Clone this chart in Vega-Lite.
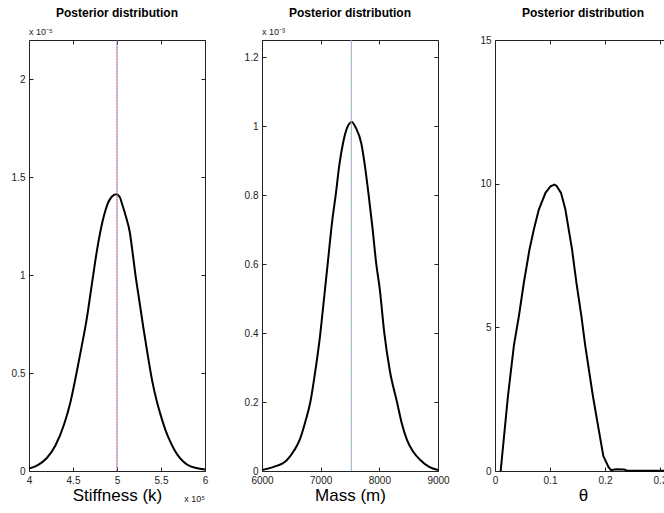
{
  "$schema": "https://vega.github.io/schema/vega-lite/v6.json",
  "padding": {"left": 10, "top": 6, "right": 0, "bottom": 5},
  "background": "white",
  "datasets": {
    "k": [
      {"x": 400000, "p": 1.2e-7}, {"x": 410000, "p": 3.0e-7}, {"x": 420000, "p": 6.5e-7},
      {"x": 430000, "p": 1.3e-6}, {"x": 440000, "p": 2.4e-6}, {"x": 447000, "p": 3.5e-6},
      {"x": 454000, "p": 5.0e-6}, {"x": 460000, "p": 6.4e-6}, {"x": 465000, "p": 7.6e-6},
      {"x": 472000, "p": 9.7e-6}, {"x": 477000, "p": 1.12e-5}, {"x": 481000, "p": 1.22e-5},
      {"x": 485000, "p": 1.30e-5}, {"x": 489000, "p": 1.36e-5}, {"x": 494000, "p": 1.40e-5},
      {"x": 499000, "p": 1.413e-5}, {"x": 503000, "p": 1.40e-5}, {"x": 506000, "p": 1.36e-5},
      {"x": 510000, "p": 1.30e-5}, {"x": 514500, "p": 1.22e-5}, {"x": 517000, "p": 1.14e-5},
      {"x": 521000, "p": 1.00e-5}, {"x": 525000, "p": 8.8e-6}, {"x": 530000, "p": 7.3e-6},
      {"x": 535000, "p": 5.9e-6}, {"x": 540000, "p": 4.6e-6}, {"x": 545000, "p": 3.6e-6},
      {"x": 550000, "p": 2.8e-6}, {"x": 555000, "p": 2.1e-6}, {"x": 560000, "p": 1.55e-6},
      {"x": 565000, "p": 1.1e-6}, {"x": 570000, "p": 7.5e-7}, {"x": 575000, "p": 5.0e-7},
      {"x": 580000, "p": 3.2e-7}, {"x": 590000, "p": 1.5e-7}, {"x": 600000, "p": 8e-8}
    ],
    "ktrue": [{"x": 500000}],
    "m": [
      {"x": 6000, "p": 3e-6}, {"x": 6200, "p": 1.2e-5}, {"x": 6426, "p": 3.2e-5},
      {"x": 6550, "p": 6.0e-5}, {"x": 6642, "p": 9.0e-5}, {"x": 6750, "p": 1.5e-4},
      {"x": 6824, "p": 2.0e-4}, {"x": 6900, "p": 2.8e-4}, {"x": 6995, "p": 4.0e-4},
      {"x": 7051, "p": 4.9e-4}, {"x": 7119, "p": 6.0e-4}, {"x": 7200, "p": 7.3e-4},
      {"x": 7256, "p": 8.0e-4}, {"x": 7320, "p": 8.9e-4}, {"x": 7380, "p": 9.5e-4},
      {"x": 7450, "p": 9.95e-4}, {"x": 7530, "p": 1.0125e-3}, {"x": 7600, "p": 9.95e-4},
      {"x": 7693, "p": 9.5e-4}, {"x": 7750, "p": 8.9e-4}, {"x": 7818, "p": 8.0e-4},
      {"x": 7880, "p": 7.1e-4}, {"x": 7948, "p": 6.0e-4}, {"x": 8006, "p": 5.3e-4},
      {"x": 8085, "p": 4.0e-4}, {"x": 8180, "p": 2.9e-4}, {"x": 8301, "p": 2.0e-4},
      {"x": 8380, "p": 1.4e-4}, {"x": 8471, "p": 9.0e-5}, {"x": 8580, "p": 5.5e-5},
      {"x": 8698, "p": 3.2e-5}, {"x": 8850, "p": 1.2e-5}, {"x": 9000, "p": 3e-6}
    ],
    "mtrue": [{"x": 7522}],
    "theta": [
      {"x": 0.0103, "p": 0}, {"x": 0.0235, "p": 2.6}, {"x": 0.0344, "p": 4.37},
      {"x": 0.0435, "p": 5.4}, {"x": 0.0525, "p": 6.56}, {"x": 0.0628, "p": 7.72},
      {"x": 0.0707, "p": 8.41}, {"x": 0.0797, "p": 9.1}, {"x": 0.0918, "p": 9.68},
      {"x": 0.101, "p": 9.91}, {"x": 0.108, "p": 9.97}, {"x": 0.112, "p": 9.92},
      {"x": 0.12, "p": 9.68}, {"x": 0.128, "p": 9.1}, {"x": 0.134, "p": 8.41},
      {"x": 0.14, "p": 7.72}, {"x": 0.148, "p": 6.56}, {"x": 0.157, "p": 5.4},
      {"x": 0.164, "p": 4.37}, {"x": 0.178, "p": 2.61}, {"x": 0.1885, "p": 1.45},
      {"x": 0.197, "p": 0.52}, {"x": 0.2065, "p": 0.13}, {"x": 0.211, "p": 0.03},
      {"x": 0.22, "p": 0.06}, {"x": 0.235, "p": 0.05}, {"x": 0.24, "p": 0.01},
      {"x": 0.32, "p": 0.01}
    ]
  },
  "hconcat": [
    {
      "width": 176, "height": 431,
      "title": {"text": "Posterior distribution", "offset": 8},
      "layer": [
        {
          "data": {"name": "k"},
          "mark": {"type": "line", "color": "black", "strokeWidth": 2, "interpolate": "monotone"},
          "encoding": {
            "x": {"field": "x", "type": "quantitative",
                  "scale": {"domain": [400000, 600000], "nice": false, "zero": false},
                  "axis": {"values": [400000, 450000, 500000, 550000, 600000], "labelExpr": "format(datum.value/1e5,'~g')", "title": "Stiffness (k)"}},
            "y": {"field": "p", "type": "quantitative",
                  "scale": {"domain": [0, 2.2e-5], "nice": false},
                  "axis": {"values": [0, 5e-6, 1e-5, 1.5e-5, 2e-5], "labelExpr": "format(datum.value*1e5,'~g')", "title": null}}
          }
        },
        {
          "data": {"name": "k"},
          "mark": {"type": "line", "strokeOpacity": 0},
          "encoding": {
            "x": {"field": "x", "type": "quantitative", "axis": {"orient": "top", "labels": false, "title": null, "values": [400000, 450000, 500000, 550000, 600000]}},
            "y": {"field": "p", "type": "quantitative", "axis": {"orient": "right", "labels": false, "title": null, "values": [0, 5e-6, 1e-5, 1.5e-5, 2e-5]}}
          }
        },
        {"data": {"name": "ktrue"}, "mark": {"type": "rule", "color": "#3a6cff", "strokeWidth": 1, "strokeDash": [1, 2]}, "encoding": {"x": {"field": "x", "type": "quantitative", "axis": null}}},
        {"data": {"name": "ktrue"}, "mark": {"type": "rule", "color": "#ff8c1a", "strokeWidth": 1, "strokeDash": [1, 2], "strokeDashOffset": 1}, "encoding": {"x": {"field": "x", "type": "quantitative", "axis": null}}},
        {"data": {"name": "ktrue"}, "mark": {"type": "rule", "color": "#b040c0", "strokeWidth": 1, "strokeDash": [1, 2], "strokeDashOffset": 2}, "encoding": {"x": {"field": "x", "type": "quantitative", "axis": null}}},
        {"data": {"values": [{}]}, "mark": {"type": "text", "align": "left", "baseline": "alphabetic", "dy": -5, "fontSize": 9, "color": "#222"},
         "encoding": {"x": {"datum": 400000, "type": "quantitative", "axis": null}, "y": {"datum": 2.2e-5, "type": "quantitative", "axis": null}, "text": {"value": "x 10⁻⁵"}}},
        {"data": {"values": [{}]}, "mark": {"type": "text", "align": "right", "baseline": "alphabetic", "dy": 31, "fontSize": 9, "color": "#222"},
         "encoding": {"x": {"datum": 600000, "type": "quantitative", "axis": null}, "y": {"datum": 0, "type": "quantitative", "axis": null}, "text": {"value": "x 10⁵"}}}
      ],
      "resolve": {"axis": {"x": "independent", "y": "independent"}}
    },
    {
      "width": 176, "height": 431,
      "title": {"text": "Posterior distribution", "offset": 8},
      "layer": [
        {
          "data": {"name": "m"},
          "mark": {"type": "line", "color": "black", "strokeWidth": 2, "interpolate": "monotone"},
          "encoding": {
            "x": {"field": "x", "type": "quantitative",
                  "scale": {"domain": [6000, 9000], "nice": false, "zero": false},
                  "axis": {"values": [6000, 7000, 8000, 9000], "format": "d", "title": "Mass (m)"}},
            "y": {"field": "p", "type": "quantitative",
                  "scale": {"domain": [0, 1.25e-3], "nice": false},
                  "axis": {"values": [0, 2e-4, 4e-4, 6e-4, 8e-4, 1e-3, 1.2e-3], "labelExpr": "format(datum.value*1e3,'~g')", "title": null}}
          }
        },
        {
          "data": {"name": "m"},
          "mark": {"type": "line", "strokeOpacity": 0},
          "encoding": {
            "x": {"field": "x", "type": "quantitative", "axis": {"orient": "top", "labels": false, "title": null, "values": [6000, 7000, 8000, 9000]}},
            "y": {"field": "p", "type": "quantitative", "axis": {"orient": "right", "labels": false, "title": null, "values": [0, 2e-4, 4e-4, 6e-4, 8e-4, 1e-3, 1.2e-3]}}
          }
        },
        {"data": {"name": "mtrue"}, "mark": {"type": "rule", "color": "#ff5ad0", "strokeWidth": 1, "strokeDash": [1, 2]}, "encoding": {"x": {"field": "x", "type": "quantitative", "axis": null}}},
        {"data": {"name": "mtrue"}, "mark": {"type": "rule", "color": "#66e066", "strokeWidth": 1, "strokeDash": [1, 2], "strokeDashOffset": 1}, "encoding": {"x": {"field": "x", "type": "quantitative", "axis": null}}},
        {"data": {"name": "mtrue"}, "mark": {"type": "rule", "color": "#55c8ff", "strokeWidth": 1, "strokeDash": [1, 2], "strokeDashOffset": 2}, "encoding": {"x": {"field": "x", "type": "quantitative", "axis": null}}},
        {"data": {"values": [{}]}, "mark": {"type": "text", "align": "left", "baseline": "alphabetic", "dy": -5, "fontSize": 9, "color": "#222"},
         "encoding": {"x": {"datum": 6000, "type": "quantitative", "axis": null}, "y": {"datum": 1.25e-3, "type": "quantitative", "axis": null}, "text": {"value": "x 10⁻³"}}}
      ],
      "resolve": {"axis": {"x": "independent", "y": "independent"}}
    },
    {
      "width": 176, "height": 431,
      "title": {"text": "Posterior distribution", "offset": 15},
      "layer": [
        {
          "data": {"name": "theta"},
          "mark": {"type": "line", "color": "black", "strokeWidth": 2},
          "encoding": {
            "x": {"field": "x", "type": "quantitative",
                  "scale": {"domain": [0, 0.32], "nice": false, "zero": false},
                  "axis": {"values": [0, 0.1, 0.2, 0.3], "format": "~g", "title": "θ"}},
            "y": {"field": "p", "type": "quantitative",
                  "scale": {"domain": [0, 15], "nice": false},
                  "axis": {"values": [0, 5, 10, 15], "title": null}}
          }
        },
        {
          "data": {"name": "theta"},
          "mark": {"type": "line", "strokeOpacity": 0},
          "encoding": {
            "x": {"field": "x", "type": "quantitative", "axis": {"orient": "top", "labels": false, "title": null, "values": [0, 0.1, 0.2, 0.3]}},
            "y": {"field": "p", "type": "quantitative", "axis": {"orient": "right", "labels": false, "title": null, "values": [0, 5, 10, 15]}}
          }
        }
      ],
      "resolve": {"axis": {"x": "independent", "y": "independent"}}
    }
  ],
  "spacing": 57,
  "bounds": "flush",
  "config": {
    "font": "Liberation Sans",
    "view": {"stroke": "#222", "strokeWidth": 1},
    "axis": {
      "domain": false, "grid": false, "labelFlush": false,
      "tickColor": "#222", "tickSize": -4, "tickWidth": 1,
      "labelFontSize": 10, "labelColor": "#222", "labelPadding": 8,
      "titleFontSize": 17, "titleFontWeight": "normal", "titleColor": "#000", "titlePadding": 2
    },
    "title": {"fontSize": 12, "fontWeight": "bold", "color": "#000"}
  }
}
